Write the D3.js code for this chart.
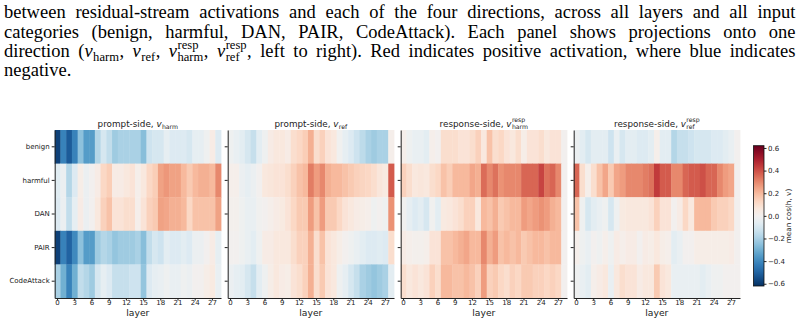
<!DOCTYPE html>
<html>
<head>
<meta charset="utf-8">
<script src="https://cdn.jsdelivr.net/npm/d3@7"></script>
<style>
  body { margin: 0; background: #fff; }
  svg { display: block; }
  text { white-space: pre; }
  .cap text { font-family: "Liberation Serif", "Times New Roman", serif; fill: #000; }
  .chart text { font-family: "DejaVu Sans", sans-serif; fill: #222; }
  .axis path, .axis line { stroke: #222; }
</style>
</head>
<body>
<svg id="fig" width="805" height="326"></svg>
<script>
// ---- data ----
const categories = ["benign", "harmful", "DAN", "PAIR", "CodeAttack"];
const layers = d3.range(0, 29);
const layerTicks = [0, 3, 6, 9, 12, 15, 18, 21, 24, 27];
const cbarTicks = [-0.6, -0.4, -0.2, 0.0, 0.2, 0.4, 0.6];

// rows follow categories order, columns are layers 0..28
const promptHarm = [
  [-0.58,-0.42,-0.52,-0.42,-0.25,-0.35,-0.35,-0.18,-0.10,-0.15,-0.22,-0.20,-0.20,-0.20,-0.20,-0.26,-0.12,-0.10,-0.10,-0.05,-0.08,-0.08,-0.08,-0.10,-0.05,-0.05,-0.02,0.04,-0.08],
  [-0.07,-0.03,-0.18,-0.08,0.03,-0.03,0.00,0.04,0.12,0.15,0.04,0.04,0.06,0.08,0.02,0.06,0.12,0.15,0.25,0.27,0.25,0.25,0.20,0.16,0.20,0.22,0.22,0.20,0.30],
  [-0.08,-0.03,-0.15,-0.05,0.04,-0.03,0.00,0.06,0.14,0.18,0.08,0.08,0.10,0.10,0.02,0.08,0.14,0.16,0.25,0.24,0.22,0.22,0.20,0.12,0.18,0.18,0.18,0.18,0.25],
  [-0.58,-0.42,-0.50,-0.40,-0.25,-0.35,-0.35,-0.22,-0.18,-0.20,-0.24,-0.22,-0.22,-0.22,-0.20,-0.26,-0.15,-0.10,-0.12,-0.06,-0.08,-0.08,-0.06,-0.08,-0.03,-0.03,0.00,0.04,-0.05],
  [-0.20,-0.30,-0.42,-0.30,-0.15,-0.18,-0.22,-0.10,-0.05,-0.08,-0.14,-0.14,-0.14,-0.12,-0.12,-0.24,-0.08,-0.05,-0.04,-0.02,-0.04,-0.04,-0.02,-0.03,0.00,0.00,0.03,0.05,-0.04]
];
const promptRef = [
  [-0.02,-0.04,-0.06,-0.10,-0.14,-0.06,-0.02,0.04,0.06,0.06,0.04,0.10,0.12,0.15,0.22,0.10,0.14,0.08,0.06,-0.01,-0.05,-0.08,-0.12,-0.16,-0.20,-0.22,-0.20,-0.20,0.02],
  [0.02,0.02,-0.03,-0.05,-0.03,0.00,0.06,0.07,0.08,0.08,0.10,0.14,0.18,0.20,0.32,0.26,0.30,0.22,0.20,0.20,0.18,0.16,0.14,0.13,0.12,0.10,0.07,0.05,0.38],
  [0.01,0.01,-0.02,-0.04,-0.04,-0.01,0.00,0.02,0.04,0.05,0.08,0.12,0.16,0.16,0.26,0.18,0.26,0.16,0.16,0.12,0.08,0.06,0.04,0.03,0.02,-0.02,0.00,-0.02,0.28],
  [0.00,0.00,-0.02,-0.04,-0.06,-0.02,0.04,0.04,0.06,0.06,0.06,0.10,0.14,0.14,0.22,0.10,0.18,0.08,0.06,0.03,0.00,-0.02,-0.04,-0.06,-0.08,-0.08,-0.07,-0.08,0.10],
  [-0.03,-0.05,-0.06,-0.10,-0.14,-0.06,-0.02,0.03,0.06,0.04,0.03,0.08,0.10,0.14,0.22,0.10,0.16,0.08,0.06,-0.02,-0.05,-0.10,-0.14,-0.20,-0.22,-0.24,-0.22,-0.20,-0.06]
];
const respHarm = [
  [0.02,-0.02,-0.04,-0.04,-0.06,0.02,0.00,0.10,0.10,0.10,0.08,0.08,0.10,0.14,0.06,0.18,0.10,0.12,0.08,0.06,0.10,0.03,0.08,0.08,0.10,0.06,0.08,0.08,0.00],
  [0.14,0.10,0.06,0.07,0.06,0.10,0.12,0.18,0.15,0.20,0.20,0.20,0.24,0.22,0.35,0.30,0.34,0.28,0.30,0.30,0.30,0.36,0.36,0.36,0.42,0.34,0.36,0.30,0.00],
  [-0.01,-0.05,-0.08,-0.06,-0.10,-0.01,-0.06,0.05,0.06,0.08,0.10,0.14,0.14,0.06,0.20,0.18,0.22,0.16,0.18,0.20,0.20,0.26,0.24,0.26,0.28,0.26,0.22,0.20,0.00],
  [0.04,0.02,0.01,0.01,0.02,0.08,0.08,0.18,0.18,0.20,0.22,0.24,0.20,0.20,0.30,0.22,0.26,0.18,0.20,0.18,0.20,0.16,0.18,0.20,0.20,0.18,0.20,0.20,0.00],
  [0.10,0.06,0.08,0.06,0.08,0.14,0.10,0.20,0.20,0.18,0.18,0.20,0.18,0.14,0.26,0.14,0.16,0.12,0.10,0.14,0.12,0.16,0.16,0.14,0.14,0.12,0.14,0.12,0.00]
];
const respRef = [
  [-0.03,-0.06,-0.10,-0.06,-0.06,-0.06,-0.12,-0.04,-0.10,-0.06,-0.06,-0.08,-0.08,-0.06,0.02,-0.06,-0.06,-0.18,-0.14,-0.14,-0.12,-0.10,-0.10,-0.10,-0.08,-0.08,-0.06,-0.04,0.00],
  [0.36,0.10,0.02,0.10,0.18,0.24,0.16,0.24,0.26,0.30,0.30,0.30,0.32,0.34,0.44,0.38,0.38,0.30,0.30,0.36,0.38,0.38,0.40,0.36,0.36,0.30,0.26,0.24,0.00],
  [0.18,-0.02,-0.10,-0.06,-0.04,-0.02,-0.10,-0.02,0.05,0.06,0.06,0.06,0.06,0.08,0.14,0.08,0.08,0.00,0.04,0.12,0.06,0.20,0.20,0.20,0.16,0.14,0.14,0.12,0.00],
  [0.02,-0.02,-0.04,0.00,-0.02,0.02,-0.02,0.04,0.02,0.04,0.04,0.00,0.04,0.03,0.06,0.03,0.02,-0.06,-0.04,0.00,0.00,0.03,0.03,0.03,0.03,0.03,0.03,0.04,0.00],
  [-0.02,-0.04,-0.06,0.02,0.04,0.06,-0.04,0.06,0.10,0.08,0.08,0.04,0.06,0.06,0.16,0.08,0.06,-0.04,-0.04,-0.04,-0.04,-0.04,-0.06,-0.04,-0.02,-0.02,0.00,0.00,0.00]
];

const panels = [
  {title: "prompt-side,\u00a0", sub: "harm", sup: null, values: promptHarm},
  {title: "prompt-side,\u00a0", sub: "ref", sup: null, values: promptRef},
  {title: "response-side,\u00a0", sub: "harm", sup: "resp", values: respHarm},
  {title: "response-side,\u00a0", sub: "ref", sup: "resp", values: respRef}
];

// ---- layout ----
const svg = d3.select("#fig");
const panelLeft = 54.7, panelW = 166.3, panelGap = 6.7;
const panelTop = 130, panelH = 168;
const vmax = 0.62;

const color = d3.scaleSequential(t => d3.interpolateRdBu(1 - t)).domain([-vmax, vmax]);

const x = d3.scaleBand().domain(layers).range([0, panelW]).padding(0);
const y = d3.scaleBand().domain(categories).range([0, panelH]).padding(0);

const chart = svg.append("g").attr("class", "chart");

panels.forEach(function(p, i) {
  const g = chart.append("g")
      .attr("transform", "translate(" + (panelLeft + i * (panelW + panelGap)) + "," + panelTop + ")");

  let cells = [];
  p.values.forEach(function(row, r) {
    row.forEach(function(v, c) {
      cells.push({cat: categories[r], layer: layers[c], value: v});
    });
  });

  g.selectAll("rect")
    .data(cells)
    .enter()
    .append("rect")
    .attr("x", d => x(d.layer))
    .attr("y", d => y(d.cat))
    .attr("width", x.bandwidth() + 0.4)
    .attr("height", y.bandwidth() + 0.4)
    .attr("fill", d => color(d.value));

  // left axis (labels only on first panel)
  const yAxis = g.append("g").attr("class", "axis")
      .call(d3.axisLeft(y).tickSize(3).tickPadding(2).tickSizeOuter(0));
  yAxis.select(".domain").attr("stroke", "#111").attr("stroke-width", 1);
  yAxis.selectAll("text").attr("font-size", 7).attr("fill", "#222");
  if (i > 0) yAxis.selectAll("text").remove();

  const xAxis = g.append("g").attr("class", "axis")
      .attr("transform", "translate(0," + panelH + ")")
      .call(d3.axisBottom(x).tickValues(layerTicks).tickSize(2.5).tickPadding(0).tickSizeOuter(0));
  xAxis.select(".domain").attr("stroke", "#444").attr("stroke-width", 1.2);
  xAxis.selectAll("text").attr("font-size", 7).attr("fill", "#222");

  g.append("text")
    .attr("x", panelW / 2)
    .attr("y", panelH + 17.5)
    .attr("text-anchor", "middle")
    .attr("font-size", 9.2)
    .text("layer");

  // title with math-like v
  const t = g.append("g");
  const base = t.append("text").attr("font-size", 8.8).attr("y", -3).text(p.title);
  const w0 = base.node().getComputedTextLength();
  const vv = t.append("text").attr("font-size", 8.8).attr("font-style", "italic")
      .attr("x", w0).attr("y", -3).text("v");
  const w1 = w0 + vv.node().getComputedTextLength() + 0.3;
  const sb = t.append("text").attr("font-size", 6.2).attr("x", w1)
      .attr("y", p.sup ? -0.6 : -1.4).text(p.sub);
  let w2 = sb.node().getComputedTextLength();
  if (p.sup) {
    const sp = t.append("text").attr("font-size", 6.2).attr("x", w1).attr("y", -7.6).text(p.sup);
    w2 = Math.max(w2, sp.node().getComputedTextLength());
  }
  const total = w1 + w2;
  t.attr("transform", "translate(" + (panelW / 2 - total / 2) + ",0)");
});

// ---- colorbar ----
const cbX = 753.5, cbW = 10.5, cbTop = 145.7, cbBot = 286;
const cy = d3.scaleLinear().domain([-vmax, vmax]).range([cbBot, cbTop]);
const defs = svg.append("defs");
const grad = defs.append("linearGradient").attr("id", "cbgrad")
    .attr("x1", 0).attr("y1", 1).attr("x2", 0).attr("y2", 0);
d3.range(0, 1.0001, 0.05).forEach(function(s) {
  grad.append("stop").attr("offset", s).attr("stop-color", color(-vmax + s * 2 * vmax));
});
chart.append("rect")
  .attr("x", cbX).attr("y", cbTop).attr("width", cbW).attr("height", cbBot - cbTop)
  .attr("fill", "url(#cbgrad)").attr("stroke", "#111").attr("stroke-width", 0.8);

const cbAxis = chart.append("g").attr("class", "axis")
    .attr("transform", "translate(" + (cbX + cbW) + ",0)")
    .call(d3.axisRight(cy).tickValues(cbarTicks).tickSize(2.5).tickPadding(1.5)
      .tickFormat(d => d3.format(".1f")(d).replace("-", "\u2212")));
cbAxis.select(".domain").remove();
cbAxis.selectAll("text").attr("font-size", 7).attr("fill", "#222");

chart.append("text")
  .attr("transform", "translate(791,216) rotate(-90)")
  .attr("text-anchor", "middle")
  .attr("font-size", 7.3)
  .text("mean cos(h, v)");

// ---- caption text above the figure ----
const cap = svg.append("g").attr("class", "cap");
const capLeft = 4, capRight = 795.5, capSize = 18.5, capSx = 1.0;

const capLines = [
  {y: 18.3, justify: true, words: "between residual-stream activations and each of the four directions, across all layers and all input".split(" ").map(w => [{t: w}])},
  {y: 37.6, justify: true, words: "categories (benign, harmful, DAN, PAIR, CodeAttack). Each panel shows projections onto one".split(" ").map(w => [{t: w}])},
  {y: 56.8, justify: true, words: [
    [{t: "direction"}],
    [{t: "("}, {t: "v", k: "i"}, {t: "harm", k: "sub"}, {t: ","}],
    [{t: "v", k: "i"}, {t: "ref", k: "sub"}, {t: ","}],
    [{t: "v", k: "i"}, {t: "harm", k: "sub", sup: "resp"}, {t: ","}],
    [{t: "v", k: "i"}, {t: "ref", k: "sub", sup: "resp"}, {t: ","}]
  ].concat("left to right). Red indicates positive activation, where blue indicates".split(" ").map(w => [{t: w}]))},
  {y: 75.6, justify: false, words: [[{t: "negative."}]]}
];

capLines.forEach(function(line) {
  const lg = cap.append("g")
      .attr("transform", "translate(" + capLeft + "," + line.y + ") scale(" + capSx + ",1)");
  const nodes = line.words.map(function(pieces) {
    const wg = lg.append("g");
    let cx = 0;
    pieces.forEach(function(pc) {
      const el = wg.append("text").attr("x", cx).text(pc.t);
      if (pc.k === "i") {
        el.attr("font-size", capSize).attr("font-style", "italic");
        cx += el.node().getComputedTextLength() + 0.5;
      } else if (pc.k === "sub") {
        el.attr("font-size", capSize * 0.68).attr("y", capSize * 0.2);
        let w = el.node().getComputedTextLength();
        if (pc.sup) {
          const se = wg.append("text").attr("x", cx).attr("y", -capSize * 0.42)
              .attr("font-size", capSize * 0.68).text(pc.sup);
          w = Math.max(w, se.node().getComputedTextLength());
        }
        cx += w + 0.5;
      } else {
        el.attr("font-size", capSize);
        cx += el.node().getComputedTextLength();
      }
    });
    return {g: wg, w: cx};
  });
  const sum = d3.sum(nodes, d => d.w);
  const gap = line.justify ? ((capRight - capLeft) / capSx - sum) / (nodes.length - 1) : capSize * 0.25;
  let pos = 0;
  nodes.forEach(function(n) {
    n.g.attr("transform", "translate(" + pos + ",0)");
    pos += n.w + gap;
  });
});
</script>
</body>
</html>
